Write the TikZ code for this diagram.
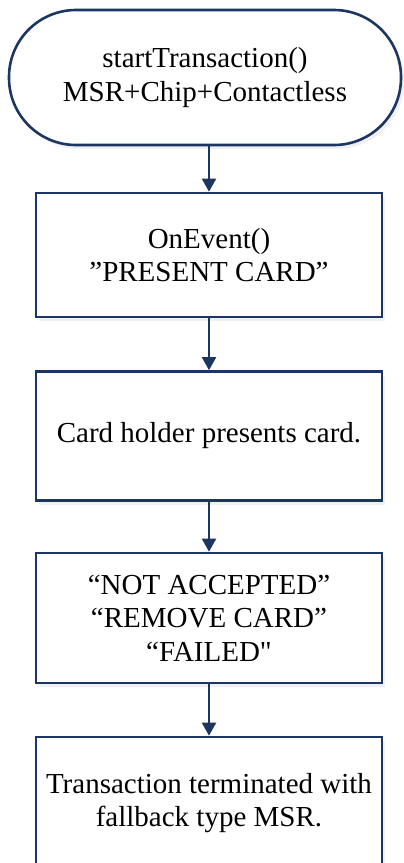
\documentclass[tikz,border=0pt]{standalone}
\usepackage{fontspec}
\setmainfont{Liberation Serif}
\newfontfamily\plainserif{Liberation Serif}
\usetikzlibrary{arrows.meta,shadows}
\definecolor{navy}{RGB}{28,54,98}
\begin{document}
\begin{tikzpicture}[x=1pt,y=-1pt,
  every node/.style={font=\fontsize{29}{33.5}\selectfont, align=center, text=black},
  boxstyle/.style={draw=navy, line width=2.6pt, fill=white,
    drop shadow={opacity=0.12, shadow xshift=3pt, shadow yshift=-4pt}},
  flow/.style={draw=navy, line width=2pt, -{Triangle[width=14pt,length=13pt]}}]
\useasboundingbox (0,0) rectangle (404,863);
\node[boxstyle, minimum width=392pt, minimum height=135pt, rounded corners=67pt] (start) at (205,77.5) {startTransaction()\\MSR+Chip+Contactless};
\node[boxstyle, minimum width=346pt, minimum height=124pt] (event) at (209,255) {OnEvent()\\”PRESENT CARD”};
\node[boxstyle, minimum width=346pt, minimum height=129pt] (present) at (209,436) {Card holder presents card.};
\node[boxstyle, minimum width=346pt, minimum height=130pt] (failed) at (209,618) {“NOT ACCEPTED”\\“REMOVE CARD”\\“FAILED{\plainserif"}};
\node[boxstyle, minimum width=346pt, minimum height=132pt] (term) at (209,803) {Transaction terminated with\\fallback type MSR.};
\draw[flow] (start.south -| event.north) -- (event.north);
\draw[flow] (event) -- (present);
\draw[flow] (present) -- (failed);
\draw[flow] (failed) -- (term);
\end{tikzpicture}
\end{document}
